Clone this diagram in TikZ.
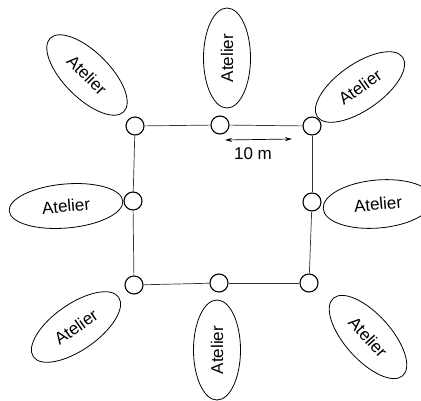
\documentclass[tikz,border=0pt]{standalone}
\usepackage{fontspec}
\setmainfont{Liberation Sans}
\usetikzlibrary{shapes.geometric,arrows.meta}
\begin{document}
\begin{tikzpicture}[x=1pt,y=-1pt,
  atelier/.style={draw,ellipse,line width=0.8pt,inner sep=0pt,font=\fontsize{17}{19}\selectfont},
  post/.style={draw,circle,line width=1.1pt,minimum size=18pt,inner sep=0pt,fill=white},
  edge/.style={line width=0.7pt,draw=black!80}]
\useasboundingbox (0,0) rectangle (421,400);
% posts
\node[post] (tl) at (135,126) {};
\node[post] (tm) at (220,125) {};
\node[post] (tr) at (312,126) {};
\node[post] (ml) at (133,201) {};
\node[post] (mr) at (312,202) {};
\node[post] (bl) at (134,285) {};
\node[post] (bm) at (219,283) {};
\node[post] (br) at (309,283) {};
% fence
\draw[edge] (tl) -- (tm);
\draw[edge] (tm) -- (tr);
\draw[edge] (tr) -- (mr);
\draw[edge] (mr) -- (br);
\draw[edge] (br) -- (bm);
\draw[edge] (bm) -- (bl);
\draw[edge] (bl) -- (ml);
\draw[edge] (ml) -- (tl);
% distance
\coordinate (da) at (225,140);
\coordinate (db) at (292,139);
\draw[line width=0.7pt,{Stealth[length=7pt,width=4pt]}-{Stealth[length=7pt,width=4pt]}] (da) -- (db);
\node[font=\fontsize{17}{19}\selectfont,inner sep=0pt] (dl) at (253,154) {10 m};
% ateliers
\node[atelier,minimum width=104pt,minimum height=46pt,rotate=-45] (a1) at (87,75) {Atelier};
\node[atelier,minimum width=100pt,minimum height=47pt,rotate=90] (a2) at (227,58) {Atelier};
\node[atelier,minimum width=104pt,minimum height=46pt,rotate=35] (a3) at (360,87) {Atelier};
\node[atelier,minimum width=114pt,minimum height=44pt,rotate=5] (a4) at (66,206) {Atelier};
\node[atelier,minimum width=110pt,minimum height=48pt,rotate=5] (a5) at (378,204) {Atelier};
\node[atelier,minimum width=104pt,minimum height=46pt,rotate=35] (a6) at (76,327) {Atelier};
\node[atelier,minimum width=100pt,minimum height=47pt,rotate=90] (a7) at (217,350) {Atelier};
\node[atelier,minimum width=104pt,minimum height=46pt,rotate=-48] (a8) at (368,337) {Atelier};
\end{tikzpicture}
\end{document}
